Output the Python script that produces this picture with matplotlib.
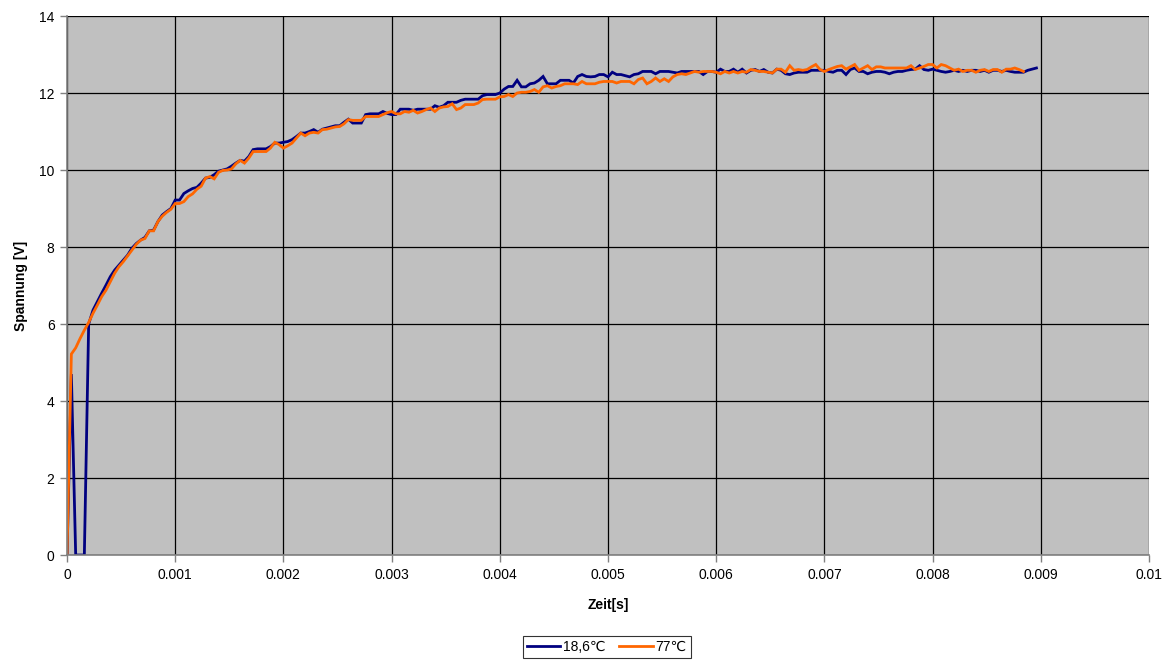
import numpy as np
import matplotlib
matplotlib.use('Agg')
import matplotlib.pyplot as plt

# Schrift wie im Excel-Diagramm (Arial-Ersatz), DejaVu fuer das ℃-Zeichen
plt.rcParams['font.family'] = ['Liberation Sans', 'DejaVu Sans']

# Abtastschritt des Oszilloskops [s]
abtastschritt = 0.00004

# Messreihe 18,6 °C, Spannung [V]
spannung_18 = [
    0, 4.7, 0, 0, 0, 6.0, 6.36, 6.58, 6.8, 7.01,
    7.23, 7.4, 7.53, 7.66, 7.79, 7.97, 8.09, 8.18, 8.25, 8.42,
    8.44, 8.66, 8.83, 8.92, 9.0, 9.22, 9.22, 9.39, 9.46, 9.52,
    9.55, 9.66, 9.79, 9.81, 9.88, 9.97, 10.0, 10.03, 10.1, 10.18,
    10.25, 10.23, 10.35, 10.53, 10.55, 10.55, 10.55, 10.61, 10.7, 10.7,
    10.72, 10.74, 10.79, 10.87, 10.96, 10.96, 11.0, 11.05, 10.98, 11.06,
    11.09, 11.12, 11.15, 11.15, 11.24, 11.32, 11.22, 11.22, 11.22, 11.44,
    11.46, 11.46, 11.46, 11.52, 11.47, 11.44, 11.44, 11.58, 11.58, 11.58,
    11.55, 11.58, 11.58, 11.58, 11.58, 11.67, 11.63, 11.67, 11.76, 11.76,
    11.76, 11.81, 11.84, 11.84, 11.84, 11.84, 11.93, 11.96, 11.96, 11.96,
    12.0, 12.1, 12.17, 12.17, 12.33, 12.16, 12.16, 12.24, 12.26, 12.33,
    12.43, 12.24, 12.24, 12.24, 12.33, 12.33, 12.33, 12.26, 12.43, 12.48,
    12.43, 12.42, 12.43, 12.48, 12.48, 12.42, 12.54, 12.48, 12.48, 12.45,
    12.42, 12.48, 12.5, 12.56, 12.56, 12.56, 12.5, 12.56, 12.56, 12.56,
    12.54, 12.52, 12.56, 12.56, 12.56, 12.56, 12.56, 12.48, 12.56, 12.56,
    12.54, 12.62, 12.56, 12.56, 12.62, 12.54, 12.62, 12.52, 12.59, 12.61,
    12.56, 12.61, 12.54, 12.52, 12.62, 12.59, 12.5, 12.48, 12.52, 12.54,
    12.54, 12.54, 12.59, 12.59, 12.59, 12.59, 12.56, 12.54, 12.59, 12.59,
    12.48, 12.61, 12.65, 12.56, 12.56, 12.5, 12.54, 12.56, 12.56, 12.54,
    12.5, 12.54, 12.56, 12.56, 12.59, 12.61, 12.62, 12.71, 12.61, 12.59,
    12.62, 12.59, 12.56, 12.54, 12.56, 12.59, 12.56, 12.59, 12.56, 12.59,
    12.59, 12.56, 12.59, 12.54, 12.59, 12.59, 12.56, 12.59, 12.56, 12.54,
    12.54, 12.54, 12.59, 12.62, 12.65,
]

# Messreihe 77 °C, Spannung [V]
spannung_77 = [
    0, 5.22, 5.38, 5.62, 5.84, 6.04, 6.28, 6.49, 6.71, 6.88,
    7.1, 7.32, 7.49, 7.62, 7.77, 7.92, 8.07, 8.18, 8.22, 8.42,
    8.42, 8.66, 8.8, 8.9, 8.98, 9.13, 9.13, 9.18, 9.31, 9.38,
    9.5, 9.58, 9.79, 9.83, 9.77, 9.94, 9.99, 10.0, 10.03, 10.16,
    10.25, 10.18, 10.31, 10.48, 10.48, 10.48, 10.48, 10.57, 10.72, 10.66,
    10.57, 10.63, 10.7, 10.83, 10.96, 10.89, 10.96, 10.98, 10.96, 11.05,
    11.06, 11.09, 11.12, 11.13, 11.2, 11.31, 11.29, 11.29, 11.29, 11.39,
    11.39, 11.39, 11.39, 11.44, 11.49, 11.52, 11.46, 11.46, 11.52, 11.5,
    11.55, 11.48, 11.52, 11.57, 11.61, 11.52, 11.61, 11.64, 11.65, 11.72,
    11.57, 11.61, 11.7, 11.7, 11.7, 11.74, 11.83, 11.84, 11.84, 11.84,
    11.9, 11.91, 11.96, 11.91, 12.0, 12.02, 12.02, 12.04, 12.09, 12.02,
    12.16, 12.19, 12.13, 12.17, 12.19, 12.24, 12.24, 12.24, 12.22, 12.3,
    12.24, 12.24, 12.24, 12.28, 12.3, 12.3, 12.3, 12.26, 12.3, 12.3,
    12.3, 12.24, 12.35, 12.39, 12.24, 12.3, 12.39, 12.3, 12.37, 12.3,
    12.42, 12.48, 12.5, 12.48, 12.52, 12.56, 12.54, 12.56, 12.56, 12.56,
    12.54, 12.5, 12.56, 12.52, 12.56, 12.52, 12.56, 12.54, 12.61, 12.59,
    12.56, 12.56, 12.54, 12.52, 12.62, 12.62, 12.54, 12.71, 12.59, 12.61,
    12.59, 12.61, 12.68, 12.74, 12.61, 12.56, 12.61, 12.65, 12.69, 12.71,
    12.62, 12.68, 12.74, 12.59, 12.65, 12.71, 12.61, 12.68, 12.68, 12.65,
    12.65, 12.65, 12.65, 12.65, 12.65, 12.71, 12.61, 12.65, 12.69, 12.74,
    12.74, 12.65, 12.74, 12.71, 12.65, 12.59, 12.62, 12.56, 12.59, 12.59,
    12.54, 12.59, 12.61, 12.56, 12.61, 12.61, 12.54, 12.62, 12.62, 12.65,
    12.61, 12.56,
]

reihen = [
    ('18,6℃', spannung_18, '#000080'),
    ('77℃', spannung_77, '#FF6600'),
]

x_ticks = [0, 0.001, 0.002, 0.003, 0.004, 0.005, 0.006, 0.007, 0.008, 0.009, 0.01]
x_tick_labels = ['0', '0.001', '0.002', '0.003', '0.004', '0.005',
                 '0.006', '0.007', '0.008', '0.009', '0.01']
y_ticks = [0, 2, 4, 6, 8, 10, 12, 14]

fig = plt.figure(figsize=(11.76, 6.62), dpi=100)
ax = fig.add_axes([0.057, 0.1616, 0.920, 0.8142])
ax.set_facecolor('#C0C0C0')

for name, werte, farbe in reihen:
    zeit = np.arange(len(werte)) * abtastschritt
    ax.plot(zeit, werte, color=farbe, linewidth=2.0, label=name,
            solid_joinstyle='miter', zorder=2)

ax.set_xlim(0, 0.01)
ax.set_ylim(0, 14)
ax.set_xticks(x_ticks)
ax.set_xticklabels(x_tick_labels)
ax.set_yticks(y_ticks)

ax.grid(True, color='black', linewidth=0.9)
ax.set_axisbelow(True)

for seite in ['top', 'right']:
    ax.spines[seite].set_visible(False)
for seite in ['left', 'bottom']:
    ax.spines[seite].set_color('#808080')
    ax.spines[seite].set_linewidth(1.2)
    ax.spines[seite].set_zorder(3)

ax.tick_params(axis='both', direction='out', length=5, width=1,
               color='#808080', labelsize=10, pad=4)

ax.set_xlabel('Zeit[s]', fontsize=10, fontweight='bold', labelpad=12)
ax.set_ylabel('Spannung [V]', fontsize=10, fontweight='bold', labelpad=8)

leg = fig.legend(loc='lower center', bbox_to_anchor=(0.516, 0.002), ncol=2,
                 fontsize=10, frameon=True, fancybox=False, handlelength=2.4,
                 handletextpad=0.2, columnspacing=1.0, borderpad=0.3,
                 borderaxespad=0.2)
leg.get_frame().set_edgecolor('black')
leg.get_frame().set_linewidth(0.8)

plt.savefig('out.png', dpi=100, facecolor='white')
plt.close()
